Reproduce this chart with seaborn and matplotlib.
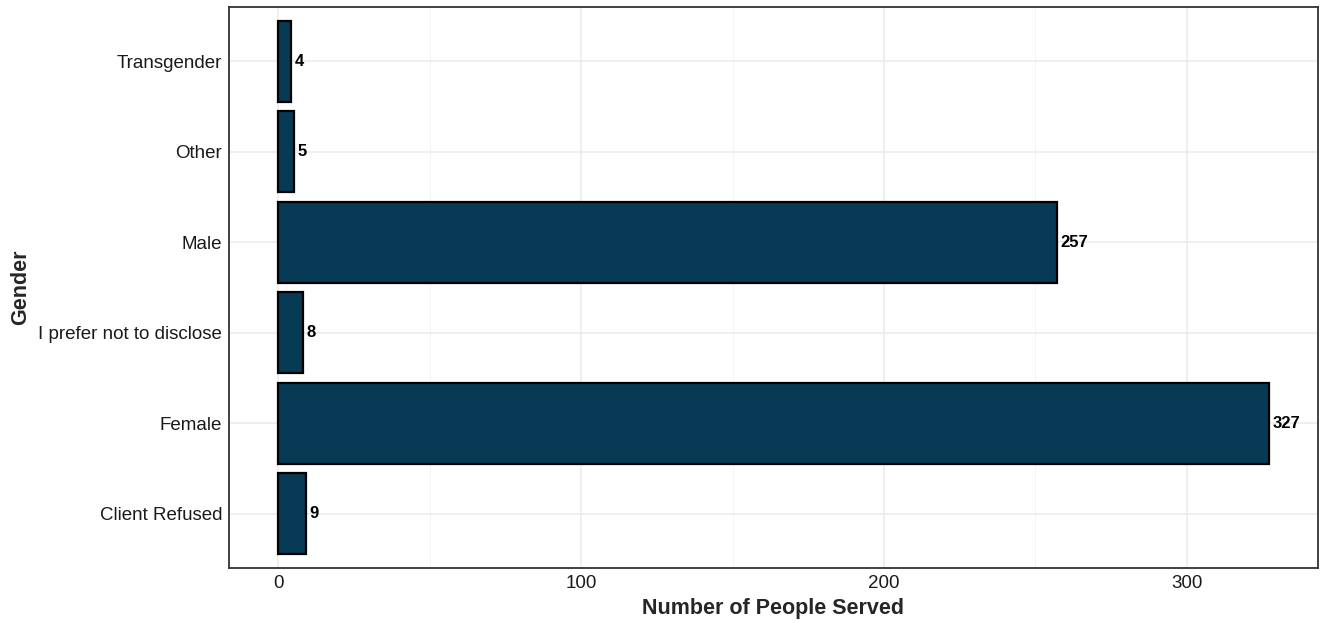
import matplotlib
matplotlib.use("Agg")
import matplotlib.pyplot as plt
import seaborn as sns
import pandas as pd
from matplotlib.ticker import MultipleLocator

# Données
genders = ['Transgender', 'Other', 'Male', 'I prefer not to disclose', 'Female', 'Client Refused']
counts = [4, 5, 257, 8, 327, 9]

df = pd.DataFrame({'Gender': genders, 'Count': counts})

sns.set_theme(style="white")
plt.rcParams['font.family'] = ['Liberation Sans', 'DejaVu Sans']

fig = plt.figure(figsize=(13.28, 6.22), dpi=100)
ax = fig.add_axes([0.1724, 0.0868, 0.8201, 0.902])

sns.barplot(data=df, x='Count', y='Gender', order=genders, color='#063A55',
            edgecolor='black', linewidth=1.6, width=0.9, saturation=1, ax=ax)

# Étiquettes des valeurs
for cont in ax.containers:
    ax.bar_label(cont, padding=3, fontsize=12, fontweight='bold', color='black')

ax.set_xlim(-16.35, 343.35)
ax.set_ylim(len(genders) - 0.4, -0.6)
ax.xaxis.set_major_locator(MultipleLocator(100))
ax.xaxis.set_minor_locator(MultipleLocator(50))

# Grille style theme_bw
ax.set_axisbelow(True)
ax.grid(True, which='major', color='#EBEBEB', linewidth=1.1)
ax.grid(True, which='minor', axis='x', color='#F3F3F3', linewidth=0.6)
for side in ax.spines.values():
    side.set_visible(True)
    side.set_color('#333333')
    side.set_linewidth(1.3)

ax.tick_params(axis='both', which='major', length=3, width=1, color='#333333',
               labelsize=13.5, labelcolor='#1a1a1a', pad=2)
ax.tick_params(axis='x', which='minor', length=0)

ax.set_xlabel('Number of People Served', fontsize=15.5, fontweight='bold', labelpad=4)
ax.set_ylabel('Gender', fontsize=15.5, fontweight='bold', labelpad=6)
ax.yaxis.set_label_coords(-0.182, 0.5)

fig.savefig('out.png', dpi=100)
